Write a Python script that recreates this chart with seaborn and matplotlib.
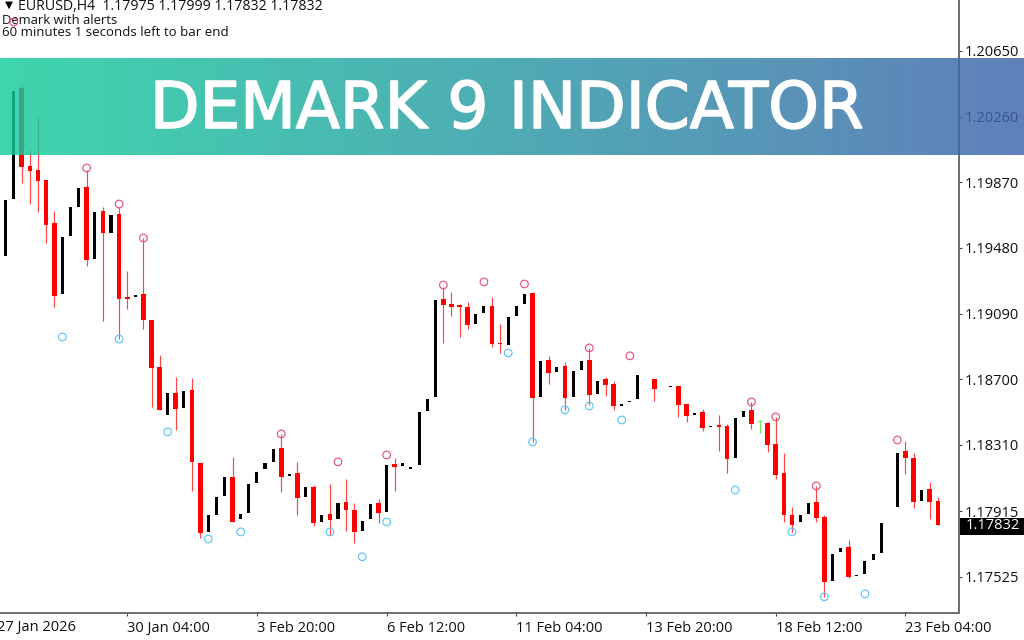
import numpy as np
import pandas as pd
import matplotlib
matplotlib.use("Agg")
import matplotlib.pyplot as plt
import matplotlib.patheffects as pe
from matplotlib.patches import Rectangle
import seaborn as sns

# EURUSD H4 bars, None where no candle is visible
open_ = [1.19432,1.19771,1.20430,1.19967,1.19943,1.19884,1.19628,1.19207,1.19551,1.19723,1.19842,1.19414,1.19700,1.19569,1.19682,1.19189,1.19189,1.19207,1.19052,1.18773,
 1.18488,1.18618,1.18529,1.18636,1.18203,1.17793,1.17894,1.18007,1.18120,1.17870,1.17906,1.18084,1.18167,1.18209,1.18292,1.18126,1.18144,1.18001,1.18060,1.17852,
 1.17900,1.17870,1.17971,1.17924,1.17799,1.17870,1.17965,1.17912,1.18197,1.18185,1.18167,1.18191,1.18512,1.18595,1.19177,1.19147,1.19141,1.19129,1.19028,1.19094,
 1.19135,1.18916,1.18904,1.19076,1.19147,1.19213,1.18595,1.18815,1.18743,1.18779,1.18595,1.18755,1.18815,1.18613,1.18702,1.18672,1.18541,1.18565,1.18583,None,
 1.18702,None,1.18651,1.18660,1.18553,1.18488,1.18506,1.18417,1.18429,1.18423,1.18233,1.18476,1.18518,1.18443,1.18440,1.18316,1.18144,1.17894,1.17852,1.17900,
 1.17971,1.17882,1.17502,1.17674,1.17704,1.17532,1.17544,1.17627,1.17668,None,1.17942,1.18274,1.18233,1.17977,1.18048,1.17975]
close_ = [1.19765,1.20412,1.19961,1.19937,1.19878,1.19616,1.19195,1.19545,1.19723,1.19836,1.19409,1.19694,1.19569,1.19676,1.19177,1.19177,1.19201,1.19052,1.18767,1.18518,
 1.18618,1.18524,1.18630,1.18209,1.17787,1.17894,1.18001,1.18120,1.17852,1.17900,1.18078,1.18149,1.18203,1.18286,1.18120,1.18138,1.17995,1.18060,1.17846,1.17894,
 1.17864,1.17965,1.17924,1.17793,1.17858,1.17959,1.17906,1.18191,1.18179,1.18203,1.18179,1.18506,1.18583,1.19171,1.19141,1.19129,1.19129,1.19022,1.19088,1.19135,
 1.18910,1.18910,1.19070,1.19135,1.19207,1.18589,1.18809,1.18737,1.18773,1.18589,1.18749,1.18809,1.18607,1.18690,1.18666,1.18541,1.18553,1.18571,1.18726,None,
 1.18642,None,1.18657,1.18547,1.18482,1.18500,1.18411,1.18423,1.18417,1.18227,1.18470,1.18512,1.18435,1.18449,1.18310,1.18132,1.17894,1.17835,1.17894,1.17965,
 1.17876,1.17496,1.17662,1.17698,1.17526,1.17538,1.17621,1.17662,1.17846,None,1.18262,1.18233,1.17971,1.18042,1.17971,1.17832]
high_ = [1.19765,1.20412,1.20448,1.20062,1.20252,1.19884,1.19700,1.19545,1.19723,1.19836,1.19943,1.19694,1.19723,1.19676,1.19723,1.19343,1.19201,1.19539,1.19052,1.18844,
 1.18618,1.18714,1.18630,1.18708,1.18203,1.17894,1.18001,1.18120,1.18239,1.17900,1.18078,1.18149,1.18203,1.18286,1.18375,1.18138,1.18209,1.18060,1.18072,1.17894,
 1.18078,1.17965,1.18108,1.17965,1.17858,1.17959,1.17989,1.18191,1.18233,1.18203,1.18179,1.18506,1.18583,1.19171,1.19248,1.19219,1.19147,1.19159,1.19088,1.19135,
 1.19189,1.19028,1.19070,1.19135,1.19207,1.19213,1.18809,1.18839,1.18773,1.18803,1.18749,1.18809,1.18886,1.18690,1.18714,1.18690,1.18553,1.18571,1.18726,None,
 1.18702,None,1.18657,1.18660,1.18553,1.18500,1.18524,1.18423,1.18488,1.18435,1.18470,1.18512,1.18565,1.18458,1.18446,1.18476,1.18262,1.17942,1.17894,1.17965,
 1.18066,1.17894,1.17662,1.17698,1.17745,1.17538,1.17621,1.17662,1.17846,None,1.18262,1.18333,1.18262,1.18042,1.18090,1.17999]
low_ = [1.19432,1.19771,1.19866,1.19741,1.19694,1.19510,1.19129,1.19207,1.19551,1.19723,1.19373,1.19414,1.19046,1.19569,1.18939,1.19118,1.19189,1.18999,1.18535,1.18518,
 1.18488,1.18399,1.18529,1.18036,1.17757,1.17793,1.17894,1.18007,1.17852,1.17870,1.17906,1.18084,1.18167,1.18209,1.18030,1.18126,1.17894,1.18001,1.17829,1.17852,
 1.17775,1.17870,1.17799,1.17728,1.17799,1.17870,1.17846,1.17912,1.18036,1.18185,1.18167,1.18191,1.18512,1.18595,1.18916,1.19076,1.18951,1.18999,1.19028,1.19094,
 1.18892,1.18856,1.18904,1.19076,1.19147,1.18327,1.18595,1.18672,1.18743,1.18518,1.18595,1.18755,1.18547,1.18613,1.18601,1.18518,1.18541,1.18565,1.18583,None,
 1.18571,None,1.18651,1.18476,1.18446,1.18488,1.18393,1.18417,1.18274,1.18144,1.18233,1.18476,1.18405,1.18381,1.18268,1.18108,1.17852,1.17793,1.17852,1.17900,
 1.17852,1.17407,1.17502,1.17674,1.17520,1.17532,1.17544,1.17627,1.17668,None,1.17942,1.18138,1.17936,1.17977,1.17870,1.17832]

sell_bars = [1,10,14,17,34,41,47,54,59,64,72,77,92,95,100,110]
sell_marks = [1.20822,1.19955,1.19741,1.19539,1.18375,1.18209,1.18250,1.19260,1.19278,1.19266,1.18886,1.18839,1.18565,1.18476,1.18066,1.18339]
buy_bars = [7,14,20,25,29,40,44,47,62,65,69,72,76,90,97,101,106]
buy_marks = [1.18951,1.18939,1.18387,1.17751,1.17793,1.17793,1.17645,1.17852,1.18856,1.18327,1.18518,1.18541,1.18458,1.18042,1.17793,1.17407,1.17425]
green_bars = [93]

first_label_bar = -1
first_label = "27 Jan 2026"
x_tick_bars = [15,31,47,63,79,95,111]
x_tick_labels = ["30 Jan 04:00","3 Feb 20:00","6 Feb 12:00","11 Feb 04:00","13 Feb 20:00","18 Feb 12:00","23 Feb 04:00"]
y_ticks = [1.20650,1.20260,1.19870,1.19480,1.19090,1.18700,1.18310,1.17915,1.17525]
last_price = 1.17832
header = ["EURUSD,H4  1.17975 1.17999 1.17832 1.17832","Demark with alerts","60 minutes 1 seconds left to bar end"]
title = "DEMARK 9 INDICATOR"

sns.set_theme(style="white")
plt.rcParams["font.family"] = ["Open Sans", "DejaVu Sans"]

W, H = 1024, 640
fig = plt.figure(figsize=(W/100, H/100), dpi=100, facecolor="white")
ax = fig.add_axes([0, 27/H, 959/W, 613/H])

df = pd.DataFrame({"open": open_, "high": high_, "low": low_, "close": close_}).astype(float)
df["bar"] = np.arange(len(df))
df = df.dropna()
df["top"] = df[["open", "close"]].max(axis=1)
df["bot"] = df[["open", "close"]].min(axis=1)

up = df[(df.close > df.open) & ~df.bar.isin(green_bars)]
down = df[df.close < df.open]
green = df[df.bar.isin(green_bars)]

ax.vlines(down.bar, down.low, down.high, color="#ff4545", lw=0.85, zorder=2)
ax.vlines(green.bar, green.low, green.high, color="#66e866", lw=0.85, zorder=2)
ax.bar(down.bar, down.top - down.bot, bottom=down.bot, width=0.58, color="#ff0000", lw=0, zorder=3)
ax.bar(up.bar, up.top - up.bot, bottom=up.bot, width=0.38, color="#000000", lw=0, zorder=3)
ax.bar(green.bar, green.top - green.bot, bottom=green.bot, width=0.5, color="#66e866", lw=0, zorder=3)

sell = pd.DataFrame({"bar": sell_bars, "price": sell_marks})
buy = pd.DataFrame({"bar": buy_bars, "price": buy_marks})
sns.scatterplot(data=sell, x="bar", y="price", ax=ax, s=30, facecolor="none", edgecolor="#e4557a", linewidth=0.85, zorder=4, clip_on=False)
sns.scatterplot(data=buy, x="bar", y="price", ax=ax, s=30, facecolor="none", edgecolor="#5cc6f8", linewidth=0.85, zorder=4, clip_on=False)

ax.set_xlabel("")
ax.set_ylabel("")
for s in ["top", "left"]:
    ax.spines[s].set_visible(False)
for s in ["right", "bottom"]:
    ax.spines[s].set_visible(True)
    ax.spines[s].set_color("#6e6e6e")
    ax.spines[s].set_linewidth(1.4)

ax.yaxis.tick_right()
ax.set_yticks(y_ticks)
ax.set_yticklabels([f"{v:.5f}" for v in y_ticks], fontsize=10.5, color="#111111")
ax.set_xticks(x_tick_bars)
ax.set_xticklabels(x_tick_labels, fontsize=10.5, color="#111111", ha="left")
ax.tick_params(axis="y", length=2.5, width=0.8, color="#444444", pad=1.5, right=True)
ax.tick_params(axis="x", length=2.5, width=0.8, color="#444444", pad=3, bottom=True)
ax.set_xlim(-0.69, 117.6)
ax.set_ylim(1.17311, 1.20953)

# First date label starts just off the left edge of the chart
ax.annotate(first_label, xy=(first_label_bar, 0), xycoords=("data", "axes fraction"),
            xytext=(0, -5.3), textcoords="offset points", va="top", ha="left",
            fontsize=10.5, color="#111111", annotation_clip=False)

# Current price box
fig.add_artist(Rectangle((960/W, 1-535/H), 64/W, 17/H, transform=fig.transFigure, fc="black", ec="none", zorder=5))
ax.annotate(f"{last_price:.5f}", xy=(1.0, last_price), xycoords=("axes fraction", "data"),
            xytext=(5, 0), textcoords="offset points", va="center", ha="left",
            fontsize=10.5, color="white", annotation_clip=False, zorder=6)
ax.set_zorder(6)
ax.patch.set_alpha(0)

# Header lines
fig.text(18/W, 1-6/H, header[0], fontsize=10.2, va="center", ha="left", color="#111111")
fig.text(2/W, 1-20/H, header[1], fontsize=9.4, va="center", ha="left", color="#111111")
fig.text(2/W, 1-32/H, header[2], fontsize=9.5, va="center", ha="left", color="#111111")
fig.text(9/W, 1-4.5/H, "\u25bc", fontsize=7.5, va="center", ha="center", color="black", family="DejaVu Sans")

# Gradient banner
ov = fig.add_axes([0, 1-155/H, 1, 97/H], zorder=10)
ov.axis("off")
left = np.array([0x14, 0xcd, 0x9b]) / 255
right = np.array([0x3d, 0x64, 0xac]) / 255
t = np.linspace(0, 1, 1024)[None, :, None]
grad = np.concatenate([left * (1 - t) + right * t, np.full((1, 1024, 1), 0.82)], axis=2)
ov.imshow(grad, aspect="auto", extent=[0, 1, 0, 1], interpolation="nearest")
ov.set_xlim(0, 1)
ov.set_ylim(0, 1)
ov.text(507/W, 0.464, title, fontsize=46.4, color="white", ha="center", va="center", family="DejaVu Sans",
        path_effects=[pe.withStroke(linewidth=1.2, foreground="white")])

fig.savefig("out.png", dpi=100)
